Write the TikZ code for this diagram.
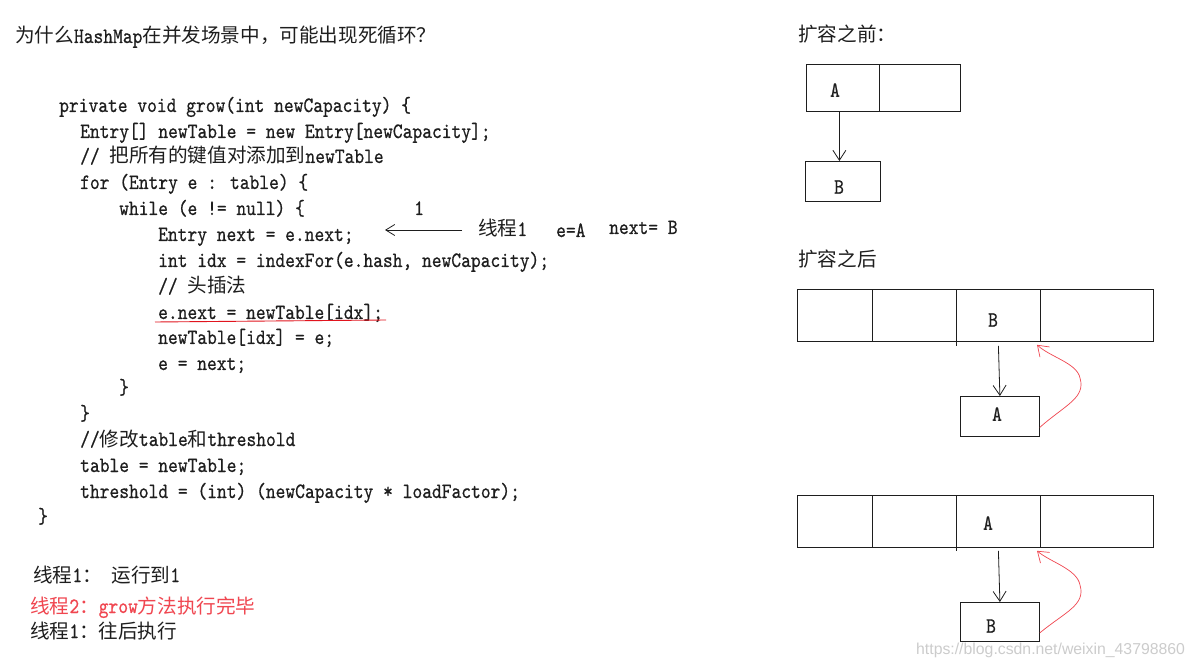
\documentclass[tikz,border=0pt]{standalone}
\usepackage{fontspec}
\newfontfamily\cjk{Noto Sans CJK SC}
\newfontfamily\wmfont{Liberation Sans}
\newfontfamily\code[FakeStretch=0.85,FakeBold=0.6]{lmmono10-regular.otf}
\usetikzlibrary{arrows.meta}
\newcommand\codesize{\code\fontsize{21.9pt}{24pt}\selectfont}
\newcommand\cj[1]{{\cjk\fontsize{19.6pt}{24pt}\selectfont #1}}
\definecolor{hred}{RGB}{240,70,80}
\definecolor{ured}{RGB}{225,20,30}
\definecolor{ink}{RGB}{30,30,30}
\begin{document}
\begin{tikzpicture}[x=1pt,y=-1pt,
  txt/.style={anchor=base west,inner sep=0pt,font=\codesize,text=ink},
  lbl/.style={anchor=center,inner sep=0pt,font=\codesize,text=ink},
  cell/.style={draw=ink,line width=0.8pt,anchor=north west,inner sep=0pt,minimum height=#1},
  arr/.style={draw=ink,line width=0.8pt,-{Straight Barb[length=10pt,width=13pt]}},
  redarr/.style={draw=hred,line width=0.7pt,-{Straight Barb[length=10pt,width=14pt]}}]
\useasboundingbox (0,0) rectangle (1197,668);
\fill[white] (0,0) rectangle (1197,668);

% title
\node[txt] (title) at (15,43) {\cj{为什么}HashMap\cj{在并发场景中，可能出现死循环？}};

% code
\node[txt] (l1)  at (59,112)  {private void grow(int newCapacity) \{};
\node[txt] (l2)  at (80,138)  {Entry[] newTable = new Entry[newCapacity];};
\node[txt] (l3)  at (80,163)  {// \cj{把所有的键值对添加到}newTable};
\node[txt] (l4)  at (80,189)  {for (Entry e : table) \{};
\node[txt] (l5)  at (119,215) {while (e != null) \{};
\node[txt] (l6)  at (158,241) {Entry next = e.next;};
\node[txt] (l7)  at (158,267) {int idx = indexFor(e.hash, newCapacity);};
\node[txt] (l8)  at (158,293) {// \cj{头插法}};
\node[txt] (l9)  at (158,319) {e.next = newTable[idx];};
\node[txt] (l10) at (158,344) {newTable[idx] = e;};
\node[txt] (l11) at (158,370) {e = next;};
\node[txt] (l12) at (119,394) {\}};
\node[txt] (l13) at (80,420)  {\}};
\node[txt] (l14) at (80,446)  {//\cj{修改}table\cj{和}threshold};
\node[txt] (l15) at (80,472)  {table = newTable;};
\node[txt] (l16) at (80,498)  {threshold = (int) (newCapacity * loadFactor);};
\node[txt] (l17) at (38,523)  {\}};

% red underline
\coordinate (u1) at (155,322);
\coordinate (u2) at (386,320);
\draw[ured,line width=0.9pt] (u1) -- (u2);

% annotation
\node[txt] (one) at (414,215) {1};
\coordinate (ann) at (462,230);
\coordinate (anntip) at (385,230);
\draw[arr,-{Straight Barb[length=9pt,width=11pt]}] (ann) -- (anntip);
\node[txt] (th1) at (478,236) {\cj{线程}1};
\node[txt] (eA) at (556,237) {e=A};
\node[txt] (nB) at (609,234) {next= B};

% bottom notes
\node[txt] (n1) at (33,582) {\cj{线程}1\cj{：} \cj{运行到}1};
\node[txt,text=hred] (n2) at (30,613) {\cj{线程}2\cj{：}grow\cj{方法执行完毕}};
\node[txt] (n3) at (30,638) {\cj{线程}1\cj{：往后执行}};

% right: before
\node[txt] (h1) at (798,42) {\cj{扩容之前：}};
\node[cell=47pt,minimum width=73pt] (a1) at (806,64) {};
\node[cell=47pt,minimum width=81pt] (a2) at (879,64) {};
\node[lbl] (a1t) at (835,90) {A};
\node[cell=40pt,minimum width=75pt] (b1) at (805,161) {};
\node[lbl] (b1t) at (839,187) {B};
\draw[arr] ([xshift=-3.5pt]a1.south) -- ([xshift=-3.5pt]b1.north);

% right: after 1
\node[txt] (h2) at (798,267) {\cj{扩容之后}};
\node[cell=52pt,minimum width=75pt]  (c21) at (797,289) {};
\node[cell=52pt,minimum width=84pt]  (c22) at (872,289) {};
\node[cell=52pt,minimum width=84pt]  (c23) at (956,289) {};
\node[cell=52pt,minimum width=113pt] (c24) at (1040,289) {};
\draw[ink,line width=0.8pt] (c23.south west) -- ([yshift=-4pt]c23.south west);
\node[lbl] (c23t) at (993,320) {B};
\node[cell=40pt,minimum width=79pt] (d2) at (960,396) {};
\node[lbl] (d2t) at (997,414) {A};
\draw[arr] ([yshift=-4pt]c23.south) -- (d2.north);
\draw[redarr] ([yshift=-11pt]d2.east) .. controls (1065,405) and (1086,398) .. (1080,378)
  .. controls (1077,363) and (1050,357) .. ([shift={(-3pt,-3pt)}]c24.south west);

% right: after 2
\node[cell=52pt,minimum width=75pt]  (e21) at (797,495) {};
\node[cell=52pt,minimum width=84pt]  (e22) at (872,495) {};
\node[cell=52pt,minimum width=84pt]  (e23) at (956,495) {};
\node[cell=52pt,minimum width=113pt] (e24) at (1040,495) {};
\draw[ink,line width=0.8pt] (e23.south west) -- ([yshift=-3pt]e23.south west);
\node[lbl] (e23t) at (988,523) {A};
\node[cell=39pt,minimum width=79pt] (f2) at (960,602) {};
\node[lbl] (f2t) at (991,626) {B};
\draw[arr] ([yshift=-3pt]e23.south) -- (f2.north);
\draw[redarr] ([yshift=-11pt]f2.east) .. controls (1065,612) and (1086,605) .. (1080,585)
  .. controls (1077,569) and (1050,562) .. ([shift={(-3pt,-3pt)}]e24.south west);

% watermark
\node[anchor=west,inner sep=0pt,font=\wmfont\fontsize{15.8pt}{18pt}\selectfont,text=black!20] (wm) at (916,650) {https://blog.csdn.net/weixin\_43798860};
\end{tikzpicture}
\end{document}
